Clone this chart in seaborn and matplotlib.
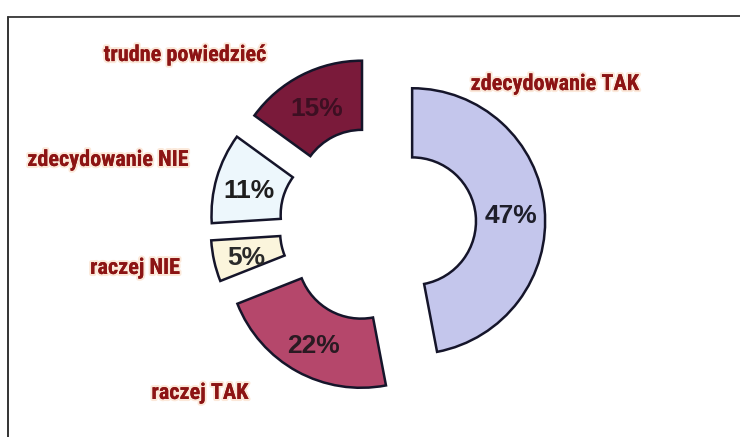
import matplotlib
matplotlib.use("Agg")
import matplotlib.pyplot as plt
import matplotlib.patheffects as pe
from matplotlib import font_manager as fm
from matplotlib.lines import Line2D
import numpy as np
import seaborn as sns

categories = ["zdecydowanie TAK", "raczej TAK", "raczej NIE", "zdecydowanie NIE", "trudne powiedzieć"]
values = [47, 22, 5, 11, 15]
colors = ["#c4c6ec", "#b5476b", "#fbf5dc", "#edf7fc", "#7a1a3a"]
pct_colors = ["#1e1e2a", "#2a1a22", "#2a2a2a", "#1e1e1e", "#3d0f22"]
# label anchor positions (data units, donut radius = 1)
label_pos = [(1.333, 1.056), (-1.336, -1.267), (-1.825, -0.327), (-2.028, 0.485), (-1.449, 1.274)]

sns.set_theme(style="white")

names = {f.name for f in fm.fontManager.ttflist}
label_font, label_size = "Liberation Sans", 13
for cand, size in [("Roboto Condensed", 16), ("Liberation Sans Narrow", 16), ("Arial Narrow", 16), ("Roboto", 13.5)]:
    if cand in names:
        label_font, label_size = cand, size
        break
plt.rcParams["font.family"] = ["Liberation Sans", "DejaVu Sans"]

fig = plt.figure(figsize=(7.4, 4.37), dpi=100)
ax = fig.add_axes([0, 0, 1, 1])

wedges, texts = ax.pie(
    values,
    colors=colors,
    startangle=90,
    counterclock=False,
    explode=[0.26] * len(values),
    radius=1.0,
    wedgeprops=dict(width=0.52, edgecolor="#15152a", linewidth=1.8),
)

# percentage labels in the ring
for w, v, c in zip(wedges, values, pct_colors):
    theta = np.deg2rad((w.theta1 + w.theta2) / 2)
    cx, cy = w.center
    r = 0.75
    ax.text(cx + r * np.cos(theta), cy + r * np.sin(theta) - 0.03, f"{v}%",
            ha="center", va="center", fontsize=19, fontweight="bold", color=c)

for name, (x, y) in zip(categories, label_pos):
    ax.text(x, y, name, ha="center", va="center", fontsize=label_size, fontweight="bold",
            family=[label_font, "DejaVu Sans"], color="#8c1414",
            path_effects=[pe.withStroke(linewidth=3, foreground="#f9d9c0", alpha=0.6), pe.Normal()])

ax.set_xlim(-2.840, 2.724)
ax.set_ylim(-1.598, 1.688)
ax.set_aspect("equal", adjustable="datalim")
ax.axis("off")

# frame remnants of the scanned chart box
fig.add_artist(Line2D([8 / 740, 1.0], [1 - 17 / 437, 1 - 16 / 437], color="#444444", lw=1.4, transform=fig.transFigure))
fig.add_artist(Line2D([8 / 740, 8 / 740], [0, 1 - 17 / 437], color="#333333", lw=1.4, transform=fig.transFigure))

fig.savefig("out.png", dpi=100, facecolor="white")
